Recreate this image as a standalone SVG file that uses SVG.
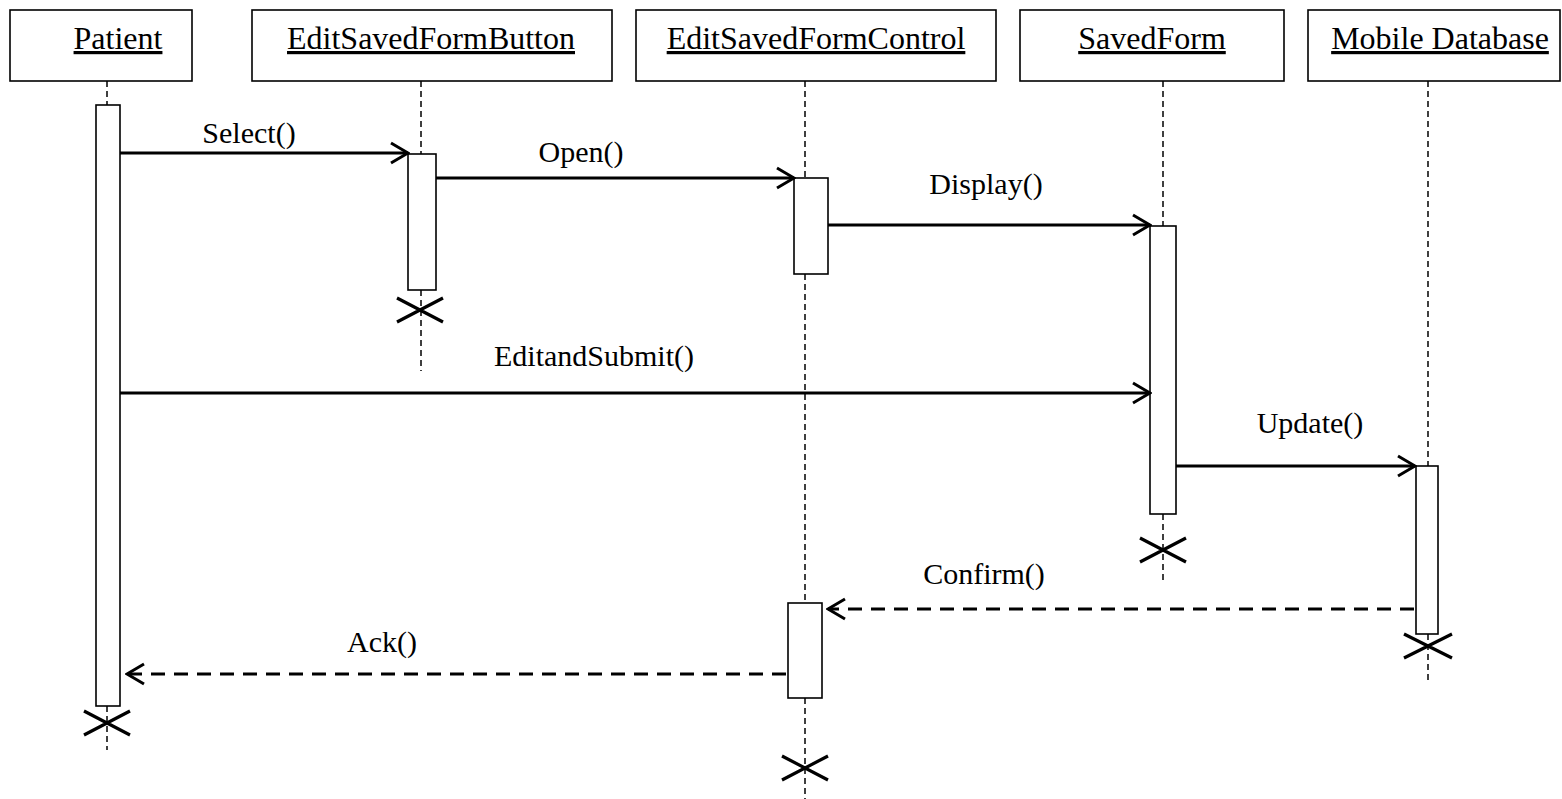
<svg xmlns="http://www.w3.org/2000/svg" width="1562" height="799" viewBox="0 0 1562 799">
<style>
.box{fill:#fff;stroke:#000;stroke-width:1.6}
.act{fill:#fff;stroke:#000;stroke-width:1.6}
.life{stroke:#000;stroke-width:1.5;stroke-dasharray:6 4;fill:none}
.hdr{font-family:'Liberation Serif','DejaVu Serif',serif;font-size:32px;text-anchor:middle;text-decoration:underline;fill:#000}
.lbl{font-family:'Liberation Serif','DejaVu Serif',serif;font-size:30px;text-anchor:middle;fill:#000}
.msg{stroke:#000;stroke-width:3;fill:none;marker-end:url(#open)}
.ret{stroke:#000;stroke-width:3;fill:none;stroke-dasharray:14 9;marker-end:url(#open)}
.x{stroke:#000;stroke-width:3.2;fill:none}
</style>
<defs>
<marker id="open" markerUnits="userSpaceOnUse" markerWidth="22" markerHeight="26" viewBox="0 0 22 26" refX="20" refY="13" orient="auto">
<path d="M3,3 L20,13 L3,23" fill="none" stroke="#000" stroke-width="3"/>
</marker>
</defs>
<rect width="1562" height="799" fill="#fff"/>

<g id="patient">
<rect class="box" x="10" y="10" width="182" height="71"/>
<text class="hdr" x="118" y="49">Patient</text>
<line class="life" x1="107" y1="81" x2="107" y2="105"/>
<line class="life" x1="107" y1="706" x2="107" y2="750"/>
<rect class="act" x="96" y="105" width="24" height="601"/>
<path class="x" d="M84,711 L130,735 M84,735 L130,711"/>
</g>

<g id="editSavedFormButton">
<rect class="box" x="252" y="10" width="360" height="71"/>
<text class="hdr" x="431" y="49">EditSavedFormButton</text>
<line class="life" x1="421" y1="81" x2="421" y2="154"/>
<line class="life" x1="421" y1="290" x2="421" y2="371"/>
<rect class="act" x="408" y="154" width="28" height="136"/>
<path class="x" d="M397,298 L443,322 M397,322 L443,298"/>
</g>

<g id="editSavedFormControl">
<rect class="box" x="636" y="10" width="360" height="71"/>
<text class="hdr" x="816" y="49">EditSavedFormControl</text>
<line class="life" x1="805" y1="81" x2="805" y2="178"/>
<line class="life" x1="805" y1="274" x2="805" y2="603"/>
<line class="life" x1="805" y1="698" x2="805" y2="799"/>
<rect class="act" x="794" y="178" width="34" height="96"/>
<rect class="act" x="788" y="603" width="34" height="95"/>
<path class="x" d="M782,756 L828,780 M782,780 L828,756"/>
</g>

<g id="savedForm">
<rect class="box" x="1020" y="10" width="264" height="71"/>
<text class="hdr" x="1152" y="49">SavedForm</text>
<line class="life" x1="1163" y1="81" x2="1163" y2="226"/>
<line class="life" x1="1163" y1="514" x2="1163" y2="580"/>
<rect class="act" x="1150" y="226" width="26" height="288"/>
<path class="x" d="M1140,538 L1186,562 M1140,562 L1186,538"/>
</g>

<g id="mobileDatabase">
<rect class="box" x="1308" y="10" width="252" height="71"/>
<text class="hdr" x="1440" y="49">Mobile Database</text>
<line class="life" x1="1428" y1="81" x2="1428" y2="466"/>
<line class="life" x1="1428" y1="634" x2="1428" y2="680"/>
<rect class="act" x="1416" y="466" width="22" height="168"/>
<path class="x" d="M1404,634 L1452,658 M1404,658 L1452,634"/>
</g>

<g id="connectors">
<line class="msg" x1="120" y1="153" x2="408" y2="153"/>
<text class="lbl" x="249" y="143">Select()</text>
<line class="msg" x1="436" y1="178" x2="794" y2="178"/>
<text class="lbl" x="581" y="162">Open()</text>
<line class="msg" x1="828" y1="225" x2="1150" y2="225"/>
<text class="lbl" x="986" y="194">Display()</text>
<line class="msg" x1="120" y1="393" x2="1150" y2="393"/>
<text class="lbl" x="594" y="366">EditandSubmit()</text>
<line class="msg" x1="1176" y1="466" x2="1415" y2="466"/>
<text class="lbl" x="1310" y="433">Update()</text>
<line class="ret" x1="1414" y1="609" x2="828" y2="609"/>
<text class="lbl" x="984" y="584">Confirm()</text>
<line class="ret" x1="786" y1="674" x2="127" y2="674"/>
<text class="lbl" x="382" y="652">Ack()</text>
</g>
</svg>
